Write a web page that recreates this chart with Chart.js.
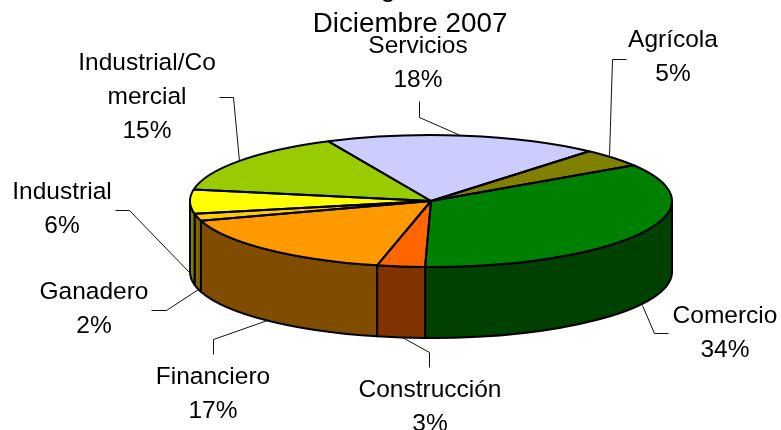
<!DOCTYPE html>
<html>
<head>
<meta charset="utf-8">
<title>Diciembre 2007</title>
<script src="https://cdn.jsdelivr.net/npm/chart.js@4"></script>
<style>
    html, body { margin: 0; padding: 0; background: #fff; }
    canvas { display: block; }
</style>
</head>
<body>
<canvas id="pieChart" width="781" height="430"></canvas>
<script>
// Datos del gráfico (estimados del dibujo, coherentes con los porcentajes rotulados)
const categories = ['Servicios', 'Agrícola', 'Comercio', 'Construcción', 'Financiero', 'Ganadero', 'Industrial', 'Industrial/Comercial'];
const shares = [18.4, 4.5, 34.49, 3.2, 16.6, 1.7, 5.9, 15.21];
const sliceColors = ['#CCCCFF', '#808000', '#008000', '#FF6600', '#FF9900', '#FFCC00', '#FFFF00', '#99CC00'];
const sideColors = ['#666680', '#404000', '#004000', '#803300', '#804D00', '#806600', '#808000', '#4D6600'];
const titleLines = ['Diciembre 2007'];

// Colocación de las etiquetas: [centro x, línea base y], y líneas guía
const labelLines = [['Servicios'], ['Agrícola'], ['Comercio'], ['Construcción'], ['Financiero'], ['Ganadero'], ['Industrial'], ['Industrial/Co', 'mercial']];
const labelPos = [[418, 53], [673, 47], [725, 323], [430, 397], [213, 384], [94, 299], [62, 199], [147, 70]];
const leaders = [
    [[419, 101], [419, 117], [460, 135]],
    [[626, 59], [612, 59], [609, 156]],
    [[668, 333], [654, 333], [642, 305]],
    [[429, 367], [429, 352], [402, 337]],
    [[213, 354], [213, 339], [267, 320]],
    [[151, 310], [166, 310], [198, 289]],
    [[115, 210], [129, 210], [190, 273]],
    [[219, 97], [233, 97], [239, 161]]
];

// Geometría de la tarta en perspectiva
const centerX = 431, centerY = 201, radiusX = 241, radiusY = 66, depth = 71;
const FONT = '"Liberation Sans", Arial, sans-serif';

// Dibuja las paredes laterales, aplasta la tarta y luego repasa los bordes
const pie3d = {
    id: 'pie3d',
    beforeDatasetsDraw(chart) {
        const ctx = chart.ctx;
        const arcs = chart.getDatasetMeta(0).data;
        ctx.save();
        ctx.lineWidth = 2;
        ctx.strokeStyle = '#000';
        ctx.lineJoin = 'round';
        arcs.forEach((arc, i) => {
            const a0 = Math.max(arc.startAngle, 0);
            const a1 = Math.min(arc.endAngle, Math.PI);
            if (a1 <= a0) return;
            ctx.beginPath();
            ctx.ellipse(centerX, centerY, radiusX, radiusY, 0, a0, a1);
            ctx.ellipse(centerX, centerY + depth, radiusX, radiusY, 0, a1, a0, true);
            ctx.closePath();
            ctx.fillStyle = sideColors[i];
            ctx.fill();
            ctx.stroke();
        });
        ctx.restore();

        const first = arcs[0];
        ctx.save();
        ctx.translate(centerX, centerY);
        ctx.scale(radiusX / first.outerRadius, radiusY / first.outerRadius);
        ctx.translate(-first.x, -first.y);
    },
    afterDatasetsDraw(chart) {
        const ctx = chart.ctx;
        ctx.restore();
        ctx.save();
        ctx.lineWidth = 2;
        ctx.strokeStyle = '#000';
        ctx.lineJoin = 'round';
        chart.getDatasetMeta(0).data.forEach(arc => {
            ctx.beginPath();
            ctx.moveTo(centerX, centerY);
            ctx.ellipse(centerX, centerY, radiusX, radiusY, 0, arc.startAngle, arc.endAngle);
            ctx.closePath();
            ctx.stroke();
        });
        ctx.restore();
    },
    afterDraw(chart) {
        const ctx = chart.ctx;
        const total = shares.reduce((a, b) => a + b, 0);
        ctx.save();
        ctx.fillStyle = '#000';
        ctx.textAlign = 'center';
        ctx.textBaseline = 'alphabetic';

        // Título: la primera línea queda cortada por el borde superior de la imagen
        ctx.font = '27.8px ' + FONT;
        ctx.fillText('g', 388, -4);
        titleLines.forEach((line, i) => ctx.fillText(line, 410, 32 + i * 32));

        // Líneas guía
        ctx.strokeStyle = '#111';
        ctx.lineWidth = 1;
        leaders.forEach(points => {
            ctx.beginPath();
            points.forEach((p, i) => {
                if (i === 0) ctx.moveTo(p[0] + 0.5, p[1] + 0.5);
                else ctx.lineTo(p[0] + 0.5, p[1] + 0.5);
            });
            ctx.stroke();
        });

        // Etiquetas con nombre y porcentaje
        ctx.font = '24.5px ' + FONT;
        categories.forEach((name, i) => {
            const lines = labelLines[i].concat(Math.round(shares[i] / total * 100) + '%');
            lines.forEach((line, j) => {
                ctx.fillText(line, labelPos[i][0], labelPos[i][1] + j * 34);
            });
        });
        ctx.restore();
    }
};

document.addEventListener('DOMContentLoaded', function() {
    const ctx = document.getElementById('pieChart').getContext('2d');
    new Chart(ctx, {
        type: 'pie',
        data: {
            labels: categories,
            datasets: [{
                data: shares,
                backgroundColor: sliceColors,
                borderWidth: 0,
                clip: false
            }]
        },
        options: {
            responsive: false,
            animation: false,
            rotation: -25.2,
            layout: { padding: { left: 231, right: 150, top: 1, bottom: 28 } },
            plugins: {
                legend: { display: false },
                tooltip: { enabled: false },
                title: { display: false }
            }
        },
        plugins: [pie3d]
    });
});
</script>
</body>
</html>
